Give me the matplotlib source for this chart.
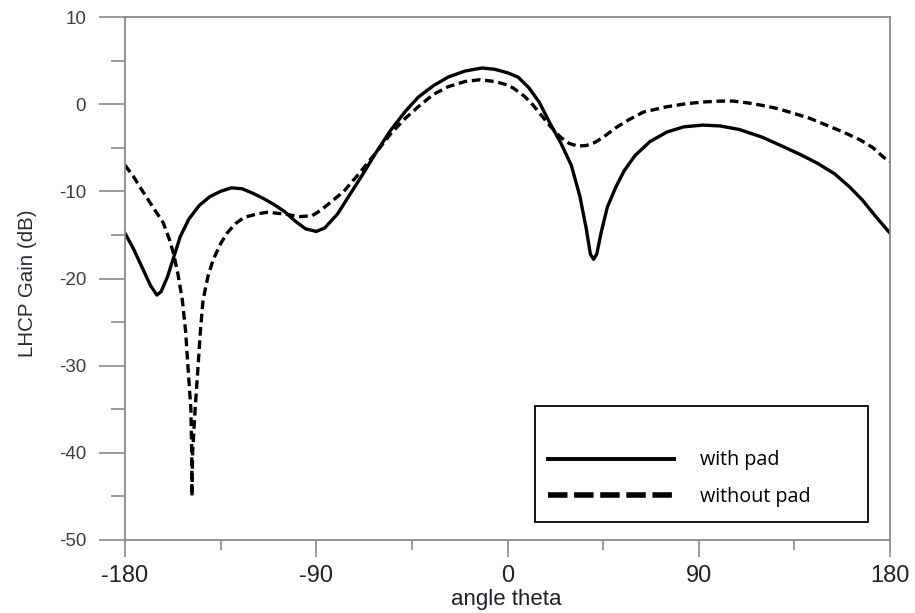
import numpy as np
import matplotlib
matplotlib.use("Agg")
import matplotlib.pyplot as plt
from matplotlib.lines import Line2D
from matplotlib.patches import Rectangle

plt.rcParams['font.family'] = ['Liberation Sans', 'DejaVu Sans']
plt.rcParams['axes.unicode_minus'] = False

# with pad (solid)
theta_pad = [-180, -176, -172, -168, -165, -163, -160, -157, -154, -150, -145, -140,
             -135, -130, -125, -120, -115, -110, -105, -100, -95, -90, -86, -80,
             -74, -68, -62, -55, -48, -42, -35, -28, -20, -12, -6, 0, 5, 10, 15,
             20, 25, 30, 34, 37, 39, 40.5, 42, 44, 47, 51, 55, 60, 67, 75, 83,
             92, 100, 109, 120, 130, 138, 146, 154, 161, 167, 173, 180]
gain_pad = [-14.8, -16.6, -18.7, -20.8, -21.9, -21.5, -19.8, -17.5, -15.2, -13.2, -11.6, -10.6,
            -10.0, -9.6, -9.7, -10.2, -10.8, -11.5, -12.3, -13.4, -14.3, -14.6, -14.2, -12.6,
            -10.3, -8.0, -5.6, -3.0, -0.8, 0.8, 2.1, 3.1, 3.8, 4.15, 4.0, 3.6, 3.1, 1.9, 0.2,
            -2.2, -4.4, -7.0, -10.5, -14.2, -17.2, -17.8, -17.2, -14.8, -11.8, -9.5, -7.6, -5.9, -4.3, -3.2, -2.6,
            -2.4, -2.5, -2.9, -3.8, -4.9, -5.8, -6.8, -8.0, -9.5, -11.0, -12.8, -14.8]

# without pad (dashed)
theta_nopad = [-180, -176, -173, -169, -165, -162, -159, -157, -155, -153, -151.5, -150.4,
               -149, -148.6, -148.5, -148.2, -147, -145.6, -144.5, -143.3, -141, -138.6,
               -135, -132, -128, -124, -118, -113, -105, -98, -92, -88, -84, -77, -70,
               -62, -55, -48, -42, -35, -28, -20, -13, -6, 0, 3, 8, 12, 15, 20, 25, 29,
               33, 37, 41, 45, 51, 57, 64, 75, 84, 92, 100, 106, 113, 119, 127, 134,
               142, 150, 158, 166, 172, 177, 180]
gain_nopad = [-7.0, -8.3, -9.5, -11.0, -12.5, -13.6, -15.6, -17.3, -19.6, -22.5, -26.0, -30.0,
              -35.0, -40.0, -45.0, -40.0, -35.0, -30.0, -26.0, -22.5, -19.8, -17.9,
              -16.0, -14.8, -13.7, -13.0, -12.6, -12.4, -12.6, -12.9, -12.8, -12.2, -11.4, -10.0, -8.0,
              -5.6, -3.4, -1.6, -0.3, 1.1, 2.0, 2.6, 2.8, 2.6, 2.2, 1.8, 0.9, -0.1, -1.0, -2.5, -3.8, -4.5,
              -4.8, -4.75, -4.4, -3.8, -2.7, -1.8, -0.9, -0.3, 0.05, 0.25, 0.35, 0.36, 0.15, -0.1, -0.5, -1.0,
              -1.6, -2.4, -3.2, -4.1, -5.0, -6.1, -6.6]

labels = ['with pad', 'without pad']

fig = plt.figure(figsize=(9.15, 6.13), dpi=100)
ax = fig.add_axes([125 / 915, 73 / 613, 765 / 915, 523 / 613])

ax.plot(theta_pad, gain_pad, color='black', lw=2.4, solid_joinstyle='round')
ax.plot(theta_nopad, gain_nopad, color='black', lw=2.4, dashes=(2.6, 1.4))

ax.set_xlim(-180, 180)
ax.set_ylim(-50, 10)
ax.set_xticks([-180, -90, 0, 90, 180])
ax.set_xticks([-135, -45, 45, 135], minor=True)
ax.set_yticks(np.arange(-50, 11, 10))
ax.set_yticks(np.arange(-45, 10, 10), minor=True)

gray = '#8a8a8a'
for s in ax.spines.values():
    s.set_color(gray)
    s.set_linewidth(1.3)
ax.tick_params(axis='y', which='major', direction='out', length=19, width=1.2, color=gray,
               pad=9, labelsize=13.5, labelcolor='#3c3c48')
ax.tick_params(axis='y', which='minor', direction='out', length=10, width=1.2, color=gray)
ax.tick_params(axis='x', which='major', direction='out', length=12, width=1.2, color=gray,
               pad=6, labelsize=17, labelcolor='#20202a')
ax.tick_params(axis='x', which='minor', direction='out', length=7, width=1.2, color=gray)

ax.set_xlabel('angle theta', fontsize=16, color='#20202a')
ax.xaxis.set_label_coords(0.498, (540 - 600) / 523)
ax.xaxis.label.set_va('center')
ax.set_ylabel('LHCP Gain (dB)', fontsize=14.8, color='#2a2a34')
ax.yaxis.set_label_coords((27 - 125) / 765, (540 - 283) / 523)
ax.yaxis.label.set_va('center')

# legend box
ax.add_patch(Rectangle((0.536, 0.0344), 0.435, 0.2216, transform=ax.transAxes,
                       fill=True, facecolor='white', edgecolor='black', lw=1.3, zorder=5))
handles = [Line2D([], [], color='black', lw=2.8),
           Line2D([], [], color='black', lw=4.0, dashes=(3.5, 1.2))]
leg = ax.legend(handles, labels, loc='center left', bbox_to_anchor=(0.553, 0.117),
                frameon=False, handlelength=6.4, handletextpad=1.3, labelspacing=0.85,
                borderpad=0, borderaxespad=0,
                prop={'family': ['Open Sans', 'DejaVu Sans'], 'size': 14.2})
leg.set_zorder(6)

fig.savefig('out.png', dpi=100)
